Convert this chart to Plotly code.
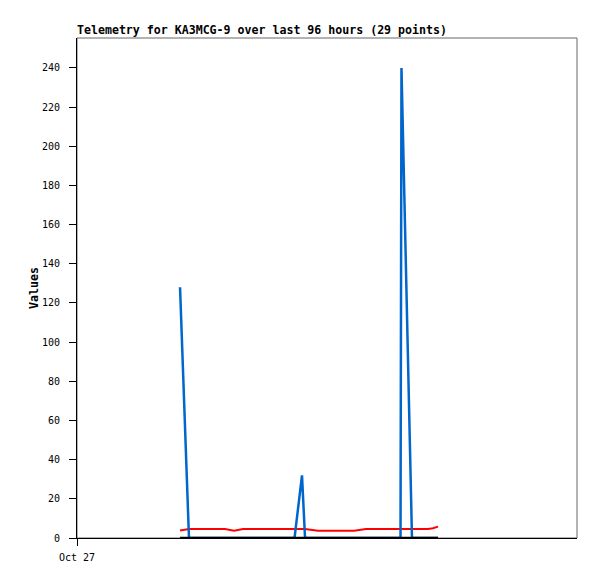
import plotly.graph_objects as go

times = [
    "2023-10-27 19:47", "2023-10-27 21:30", "2023-10-27 23:14", "2023-10-28 00:58",
    "2023-10-28 02:41", "2023-10-28 04:25", "2023-10-28 06:09", "2023-10-28 07:52",
    "2023-10-28 09:36", "2023-10-28 11:31", "2023-10-28 13:26", "2023-10-28 15:33",
    "2023-10-28 17:46", "2023-10-28 19:12", "2023-10-28 19:47", "2023-10-28 22:16",
    "2023-10-29 00:35", "2023-10-29 02:53", "2023-10-29 05:11", "2023-10-29 07:29",
    "2023-10-29 09:48", "2023-10-29 12:06", "2023-10-29 14:07", "2023-10-29 14:18",
    "2023-10-29 16:19", "2023-10-29 17:51", "2023-10-29 19:24", "2023-10-29 20:21",
    "2023-10-29 21:19",
]
blue_vals = [128, 0, 0, 0, 0, 0, 0, 0, 0, 0, 0, 0, 0, 32, 0, 0, 0, 0, 0, 0, 0, 0, 0, 240, 0, 0, 0, 0, 0]
red_vals = [3.8, 4.6, 4.6, 4.6, 4.6, 4.6, 3.7, 4.6, 4.6, 4.6, 4.6, 4.6, 4.6, 4.6, 4.6, 3.7,
            3.7, 3.7, 3.7, 4.6, 4.6, 4.6, 4.6, 4.6, 4.6, 4.6, 4.6, 5.0, 5.8]
black_vals = [0] * 29

y_ticks = list(range(0, 241, 20))
x_tick_vals = ["2023-10-27 00:00"]
x_tick_text = ["Oct 27"]

W, H = 589, 571

fig = go.Figure()
fig.add_trace(go.Scatter(x=times, y=red_vals, mode="lines", line=dict(color="#ff0000", width=2), showlegend=False))
fig.add_trace(go.Scatter(x=times, y=blue_vals, mode="lines", line=dict(color="#0066cc", width=2.5), showlegend=False))
fig.add_trace(go.Scatter(x=times, y=black_vals, mode="lines", line=dict(color="#000000", width=2.5), showlegend=False))

fig.update_layout(
    width=W, height=H,
    margin=dict(l=69, r=20, t=30, b=41),
    paper_bgcolor="white", plot_bgcolor="white",
    title=dict(text="<b>Telemetry for KA3MCG-9 over last 96 hours (29 points)</b>",
               xref="container", yref="container",
               x=69/W, xanchor="left", y=1-22/H, yanchor="middle",
               font=dict(family="DejaVu Sans Mono", size=11.6, color="black")),
    xaxis=dict(type="date", range=["2023-10-27 00:00", "2023-10-31 00:00"],
               tickvals=x_tick_vals, ticktext=x_tick_text,
               showgrid=False, zeroline=False, showline=True, linecolor="black", linewidth=1,
               ticks="outside", ticklen=7, tickcolor="black", ticklabelstandoff=3,
               tickfont=dict(family="DejaVu Sans Mono", size=10, color="black")),
    yaxis=dict(range=[0, 255.3], tickvals=y_ticks,
               showgrid=False, zeroline=False, showline=True, linecolor="black", linewidth=1,
               ticks="outside", ticklen=7, tickcolor="black", ticklabelstandoff=7,
               tickfont=dict(family="DejaVu Sans Mono", size=10, color="black"),
               title=dict(text="<b>Values</b>", standoff=0,
                          font=dict(family="DejaVu Sans Mono", size=11.6, color="black"))),
    shapes=[dict(type="rect", xref="paper", yref="paper", x0=0, y0=0, x1=1, y1=1,
                 line=dict(color="#666666", width=1), layer="below")],
)

fig.write_html("out.html")
